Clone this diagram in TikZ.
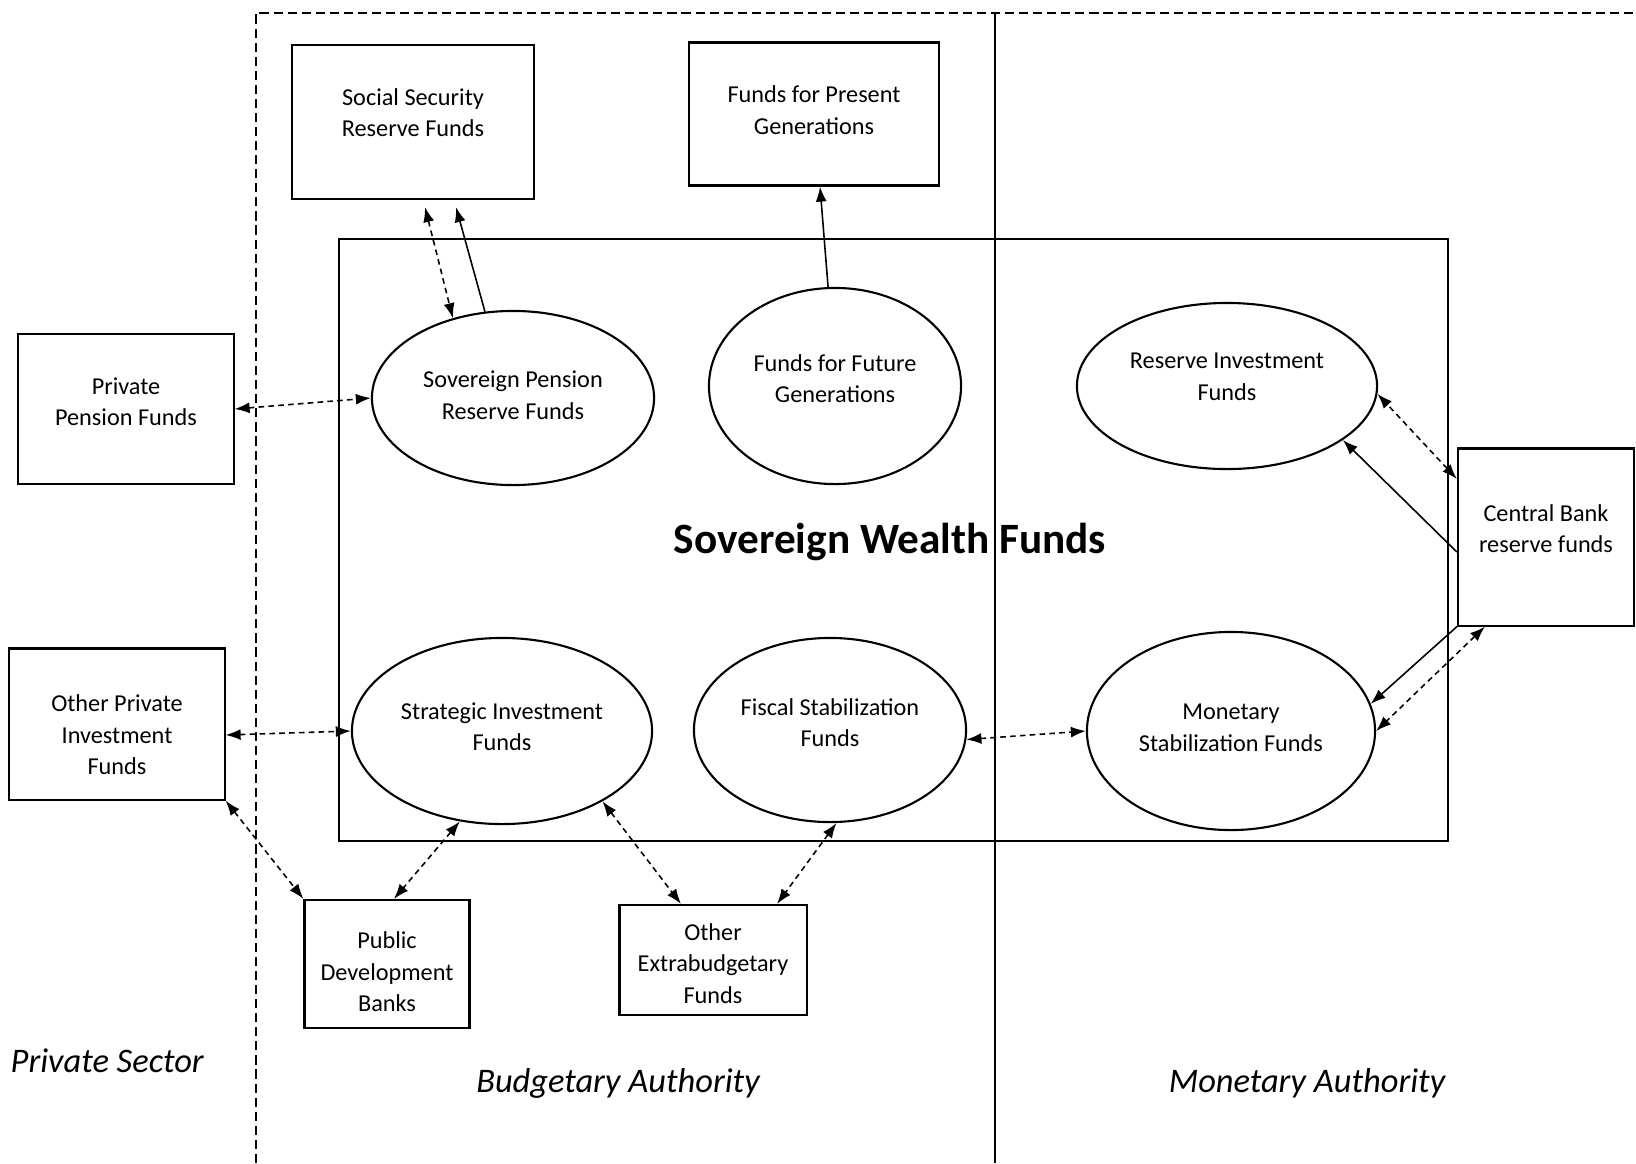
\documentclass[tikz,border=0pt]{standalone}
\usepackage{fontspec}
\setmainfont{Carlito}
\usetikzlibrary{arrows.meta,shapes.geometric}
\newcommand\txtup[1]{\rule[-#1]{0pt}{0pt}}
\newcommand\txtdown[1]{\rule{0pt}{#1}}

\begin{document}
\begin{tikzpicture}[x=0.01cm,y=-0.01cm,
	box/.style={draw,line width=0.6pt,inner sep=0pt,align=center,font=\fontsize{6.9}{9}\selectfont},
	fund/.style={ellipse,draw,line width=0.6pt,inner sep=0pt,align=center,font=\fontsize{6.9}{9}\selectfont},
	twoway/.style={{Latex[length=1.5mm,width=1.1mm]}-{Latex[length=1.5mm,width=1.1mm]},dash pattern=on 1.6pt off 1.2pt,line width=0.45pt},
	oneway/.style={-{Latex[length=1.5mm,width=1.1mm]},line width=0.45pt},
	area/.style={font=\fontsize{9.8}{12}\selectfont\itshape}]%SWF DIAGRAM
		\useasboundingbox (0,0) rectangle (1636,1163);
		\draw[dash pattern=on 2.6pt off 1.4pt,line width=0.4pt] (256,1163)--(256,13)--(1636,13);
		\draw[line width=0.5pt] (995,13)--(995,1163);
		\draw[line width=0.6pt] (339,239) rectangle (1448,841);
		\node[font=\fontsize{12.3}{14}\selectfont\bfseries] (swf) at (890,542) {Sovereign Wealth Funds};
		% boxes
		\node[box,minimum width=2.42cm,minimum height=1.54cm] (ssr) at (413,122) {Social Security\\Reserve Funds\txtup{5.4pt}};
		\node[box,minimum width=2.50cm,minimum height=1.43cm] (fpg) at (814,114) {Funds for Present\\Generations\txtup{2.4pt}};
		\node[box,minimum width=2.15cm,minimum height=1.50cm] (ppf) at (126,409) {Private\\Pension Funds\txtup{4.2pt}};
		\node[box,minimum width=2.15cm,minimum height=1.51cm] (opi) at (117,724) {\txtdown{11pt}Other Private\\Investment\\Funds};
		\node[box,minimum width=1.65cm,minimum height=1.28cm] (pdb) at (387,964) {\txtdown{9.2pt}Public\\Development\\Banks};
		\node[box,minimum width=1.87cm,minimum height=1.10cm] (oeb) at (713,960) {\txtdown{6.8pt}Other\\Extrabudgetary\\Funds};
		\node[box,minimum width=1.76cm,minimum height=1.77cm] (cbr) at (1546,537) {Central Bank\\reserve funds\txtup{4.8pt}};
		% ellipses
		\node[fund,minimum width=2.82cm,minimum height=1.74cm] (spr) at (513,398) {Sovereign Pension\\Reserve Funds\txtup{1.8pt}};
		\node[fund,minimum width=2.52cm,minimum height=1.96cm] (ffg) at (835,386) {Funds for Future\\Generations\txtup{4.2pt}};
		\node[fund,minimum width=3.00cm,minimum height=1.66cm] (rif) at (1227,386) {Reserve Investment\\Funds\txtup{5.4pt}};
		\node[fund,minimum width=3.00cm,minimum height=1.86cm] (sif) at (502,731) {Strategic Investment\\Funds\txtup{2.4pt}};
		\node[fund,minimum width=2.72cm,minimum height=1.84cm] (fsf) at (830,730) {Fiscal Stabilization\\Funds\txtup{4.2pt}};
		\node[fund,minimum width=2.88cm,minimum height=1.98cm] (msf) at (1231,731) {Monetary\\Stabilization Funds\txtup{1.8pt}};
		% links
		\draw[twoway] ([xshift=0.12cm,yshift=-2pt]ssr.south)--(spr.127);
		\draw[oneway] (spr.108)--([xshift=0.43cm,yshift=-2pt]ssr.south);
		\draw[oneway] (ffg.94)--([xshift=0.06cm]fpg.south);
		\draw[twoway] (ppf.east)--(spr.west);
		\draw[twoway] ([yshift=-0.11cm]opi.east)--(sif.west);
		\draw[twoway] (opi.south east)--(pdb.north west);
		\draw[twoway] (sif.245)--([xshift=0.07cm]pdb.north);
		\draw[twoway] (sif.325)--([xshift=-0.32cm]oeb.north);
		\draw[twoway] (fsf.274)--([xshift=0.64cm]oeb.north);
		\draw[twoway] (fsf.356)--(msf.west);
		\draw[twoway] ([yshift=0.58cm]cbr.west)--(rif.357);
		\draw[oneway] ([yshift=-0.15cm]cbr.west)--(rif.335);
		\draw[oneway] (cbr.south west)--(msf.11);
		\draw[twoway] ([xshift=0.28cm]cbr.south west)--(msf.east);
		% areas
		\node[area,anchor=west,inner sep=0pt] (ps) at (10,1061) {Private Sector};
		\node[area] (ba) at (618,1083) {Budgetary Authority};
		\node[area] (ma) at (1307,1083) {Monetary Authority};
\end{tikzpicture}
\end{document}
